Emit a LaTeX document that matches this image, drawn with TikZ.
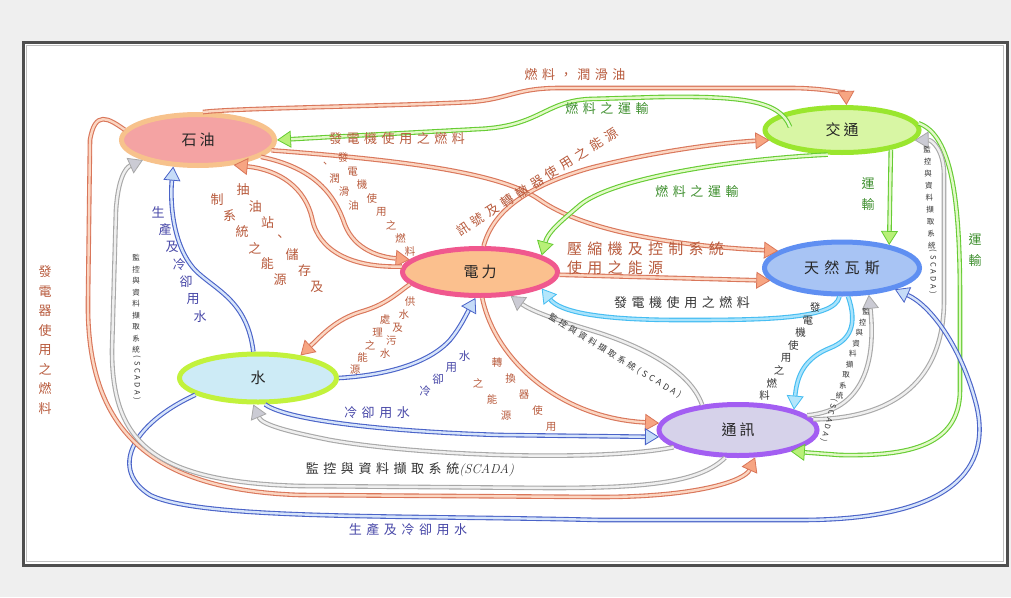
\documentclass[tikz,border=0pt]{standalone}
\usepackage{fontspec}
\newfontfamily\cjk[LetterSpace=35]{Noto Sans CJK TC}
\usetikzlibrary{shapes.geometric,arrows.meta,calc}
\definecolor{bgc}{HTML}{EFEFEF}
\definecolor{frc}{HTML}{4E4E4E}
\definecolor{brO}{HTML}{D9765A}
\definecolor{brI}{HTML}{FBD6C2}
\definecolor{brT}{HTML}{F7A582}
\definecolor{grO}{HTML}{66CC33}
\definecolor{grI}{HTML}{E2F9C8}
\definecolor{grT}{HTML}{B8F078}
\definecolor{blO}{HTML}{4A63C8}
\definecolor{blI}{HTML}{D6E4FA}
\definecolor{blT}{HTML}{C6DCF8}
\definecolor{gyO}{HTML}{A8A8A8}
\definecolor{gyI}{HTML}{EFEFEF}
\definecolor{gyT}{HTML}{CBCBD4}
\definecolor{lbO}{HTML}{45BDF2}
\definecolor{lbI}{HTML}{A9E3FB}
\definecolor{lbT}{HTML}{B4E6FB}
\definecolor{tBr}{HTML}{B85A3C}
\definecolor{tGr}{HTML}{3E8F2E}
\definecolor{tBl}{HTML}{4848A8}
\definecolor{tDk}{HTML}{333333}
\definecolor{oilB}{HTML}{F7C28C}
\definecolor{oilF}{HTML}{F4A3A3}
\definecolor{trB}{HTML}{9AE62E}
\definecolor{trF}{HTML}{D8F6A4}
\definecolor{pwB}{HTML}{F0588E}
\definecolor{pwF}{HTML}{FBC08E}
\definecolor{gsB}{HTML}{5F8FF2}
\definecolor{gsF}{HTML}{A8C4F4}
\definecolor{waB}{HTML}{C2F23C}
\definecolor{waF}{HTML}{CDEBF6}
\definecolor{cmB}{HTML}{A35EF2}
\definecolor{cmF}{HTML}{D6D2EA}
\newcommand{\chline}[5]{\foreach \chr [count=\k from 0] in {#5}{\node[#2] (#1\k) at ($#3+\k*#4$) {\chr};}}
\begin{document}
\begin{tikzpicture}[x=1pt,y=-1pt,
  ell/.style n args={2}{ellipse, draw=#1, fill=#2, line width=5pt, inner sep=0pt, font=\cjk\fontsize{15}{15}\selectfont, text=black!85},
  flow/.style n args={3}{draw=#1, double=#2, line width=1.1pt, double distance=2.4pt, -{Triangle[length=14pt,width=17pt,fill=#3,line width=0.8pt]}},
  brc/.style={flow={brO}{brI}{brT}},
  grc/.style={flow={grO}{grI}{grT}},
  blc/.style={flow={blO}{blI}{blT}},
  gyc/.style={flow={gyO}{gyI}{gyT}},
  lbc/.style={flow={lbO}{lbI}{lbT}},
  lab/.style={inner sep=0pt, font=\cjk\fontsize{13}{13}\selectfont},
  brt/.style={lab, text=tBr},
  grt/.style={lab, text=tGr},
  blt/.style={lab, text=tBl},
  dkt/.style={lab, text=tDk},
  mdt/.style={inner sep=0pt, font=\cjk\fontsize{10.5}{10.5}\selectfont, text=tBr},
  smt/.style={inner sep=0pt, font=\cjk\fontsize{7.5}{7.5}\selectfont, text=tDk},
]
\useasboundingbox (0,0) rectangle (1011,597);
\fill[bgc] (0,0) rectangle (1011,597);
\draw[draw=frc, line width=3pt, fill=white] (23,42) rectangle (1007,565);
\draw[draw=gray!50, line width=0.8pt] (26.5,45.5) rectangle (1003.5,561.5);

% nodes
\node[ell={oilB}{oilF}, minimum width=153pt, minimum height=51pt] (oil) at (198,140) {石\hspace{3pt}油};
\node[ell={trB}{trF}, minimum width=154pt, minimum height=45pt] (traffic) at (842,130) {交\hspace{3pt}通};
\node[ell={pwB}{pwF}, minimum width=155pt, minimum height=47pt] (power) at (480,272) {電\hspace{3pt}力};
\node[ell={gsB}{gsF}, minimum width=155pt, minimum height=52pt] (gas) at (842,268) {天然瓦斯};
\node[ell={waB}{waF}, minimum width=157pt, minimum height=48pt] (water) at (258,378) {水};
\node[ell={cmB}{cmF}, minimum width=158pt, minimum height=51pt] (comm) at (738,430) {通\hspace{3pt}訊};
\coordinate (trIn) at (790,127);

% connectors
\draw[brc] (oil.80) .. controls (235,108) and (400,106) .. (470,102) .. controls (510,99) and (515,88) .. (560,88) -- (790,88) .. controls (830,88) and (846,95) .. (traffic.80);
\draw[grc] (trIn) .. controls (780,100) and (740,96) .. (660,97) -- (590,99) .. controls (545,101) and (540,126) .. (480,129) -- (330,137) -- (oil.east);
\draw[brc] (oil.-8) .. controls (400,160) and (500,172) .. (540,200) .. controls (580,228) and (660,245) .. (gas.165);
\draw[brc] (oil.-15) .. controls (315,168) and (335,195) .. (345,225) .. controls (355,250) and (380,257) .. (power.170);
\draw[brc] (power.176) .. controls (350,268) and (318,250) .. (312,218) .. controls (305,188) and (280,170) .. (oil.-35);
\draw[brc] (power.82) .. controls (492,215) and (520,188) .. (590,168) .. controls (660,150) and (730,142) .. (traffic.188);
\draw[grc] (traffic.240) .. controls (720,160) and (610,180) .. (580,205) .. controls (560,222) and (548,232) .. (power.15);
\draw[brc] (power.-2) -- (gas.190);
\draw[grc] (traffic.-22.5) -- (gas.26);
\draw[grc] (traffic.5) .. controls (952,135) and (960,200) .. (960,300) -- (960,390) .. controls (960,450) and (900,456) .. (840,455) -- (comm.-22);
\draw[gyc] (comm.8) .. controls (895,418) and (944,380) .. (944,300) -- (944,175) .. controls (944,150) and (932,140) .. (traffic.-8);
\draw[lbc] (gas.-95) .. controls (835,320) and (760,320) .. (680,320) .. controls (600,320) and (560,312) .. (power.-15);
\draw[lbc] (gas.-78) .. controls (858,325) and (850,340) .. (830,348) .. controls (805,358) and (797,375) .. (comm.20);
\draw[gyc] (comm.12) .. controls (870,410) and (875,350) .. (gas.-45);
\draw[blc] (water.-165) .. controls (130,425) and (110,470) .. (150,495) .. controls (200,520) and (400,515) .. (600,520) -- (800,520) .. controls (950,520) and (995,470) .. (975,400) .. controls (960,345) and (930,305) .. (gas.-22);
\draw[brc] (oil.172) .. controls (108,118) and (95,110) .. (90,140) -- (88,300) .. controls (86,430) and (150,490) .. (300,495) -- (600,497) .. controls (700,497) and (745,480) .. (comm.-58);
\draw[gyc] (comm.-115) .. controls (700,482) and (650,488) .. (550,488) -- (300,486) .. controls (150,482) and (112,440) .. (112,350) -- (116,210) .. controls (118,180) and (125,168) .. (oil.-160);
\draw[blc] (water.100) .. controls (247,300) and (215,290) .. (195,270) .. controls (172,245) and (170,200) .. (oil.-133);
\draw[blc] (water.east) .. controls (390,375) and (430,362) .. (450,340) .. controls (460,328) and (466,315) .. (power.-100);
\draw[brc] (power.190) .. controls (395,295) and (385,305) .. (360,312) .. controls (335,320) and (322,335) .. (water.28);
\draw[brc] (power.-85) .. controls (495,360) and (560,418) .. (comm.175);
\draw[gyc] (comm.145) .. controls (690,370) and (640,345) .. (590,330) .. controls (550,318) and (530,310) .. (power.-38);
\draw[blc] (water.-75) .. controls (290,422) and (400,432) .. (500,435) -- (comm.185);
\draw[gyc] (comm.195) .. controls (600,462) and (420,456) .. (330,440) .. controls (290,432) and (262,425) .. (water.-100);

% labels
\node[brt] (l1) at (575,75) {燃料，潤滑油};
\node[grt] (l2) at (607,109) {燃料之運輸};
\node[brt] (l3) at (397,139) {發電機使用之燃料};
\chline{la}{mdt}{(343,158)}{(9.6,13.4)}{發,電,機,使,用,之,燃,料}
\chline{lb}{mdt}{(325,165)}{(9.5,13.5)}{、,潤,滑,油}
\chline{lc}{brt}{(243,190)}{(12.3,16.2)}{抽,油,站,、,儲,存,及}
\chline{ld}{brt}{(217,200)}{(12.6,16)}{制,系,統,之,能,源}
\node[brt, rotate=32.5] (l6) at (537,182) {訊號及轉轍器使用之能源};
\node[grt] (l7) at (697,192) {燃料之運輸};
\node[brt, font=\cjk\fontsize{15}{19}\selectfont, anchor=west, align=left] (l8) at (567,258) {壓縮機及控制系統\\使用之能源};
\chline{le}{grt}{(868,184)}{(0,21)}{運,輸}
\chline{lf}{grt}{(975,240)}{(0,21)}{運,輸}
\chline{lg}{smt}{(927,150)}{(0.6,12)}{監,控,與,資,料,擷,取,系,統}
\node[smt, rotate=-90] (lgs) at (933,272) {(SCADA)};
\chline{lh}{brt}{(45,272)}{(0,19.5)}{發,電,器,使,用,之,燃,料}
\chline{li}{smt}{(136,258)}{(0,11.5)}{監,控,與,資,料,擷,取,系,統}
\node[smt, rotate=-90] (lis) at (137,378) {(SCADA)};
\chline{lj}{blt}{(158,212)}{(7,17.5)}{生,產,及,冷,卻,用,水}
\chline{lk}{mdt}{(410,302)}{(-6.25,13)}{供,水,及,污,水}
\chline{ll}{mdt}{(385,320)}{(-7.5,12.5)}{處,理,之,能,源}
\chline{lq}{blt, font=\cjk\fontsize{11.5}{11.5}\selectfont}{(425,391)}{(13.2,-11.5)}{冷,卻,用,水}
\chline{lm}{mdt}{(497,363)}{(13.5,16)}{轉,換,器,使,用}
\chline{ln}{mdt}{(478,383)}{(14,16.5)}{之,能,源}
\node[smt, rotate=-31.4, font=\cjk\fontsize{8.5}{8.5}\selectfont] (l18) at (615,356) {監控與資料擷取系統(SCADA)};
\node[dkt] (l19) at (682,303) {發電機使用之燃料};
\chline{lo}{mdt, text=tDk}{(815,308)}{(-7.2,12.5)}{發,電,機,使,用,之,燃,料}
\chline{lp}{smt}{(866,312)}{(-3.3,10.5)}{監,控,與,資,料,擷,取,系,統}
\node[smt, rotate=-105] (lps) at (829,420) {(SCADA)};
\node[blt] (l22) at (377,413) {冷卻用水};
\node[dkt] (l23) at (410,470) {監控與資料擷取系統{\rmfamily\itshape(SCADA)}};
\node[blt] (l24) at (408,530) {生產及冷卻用水};
\end{tikzpicture}
\end{document}
